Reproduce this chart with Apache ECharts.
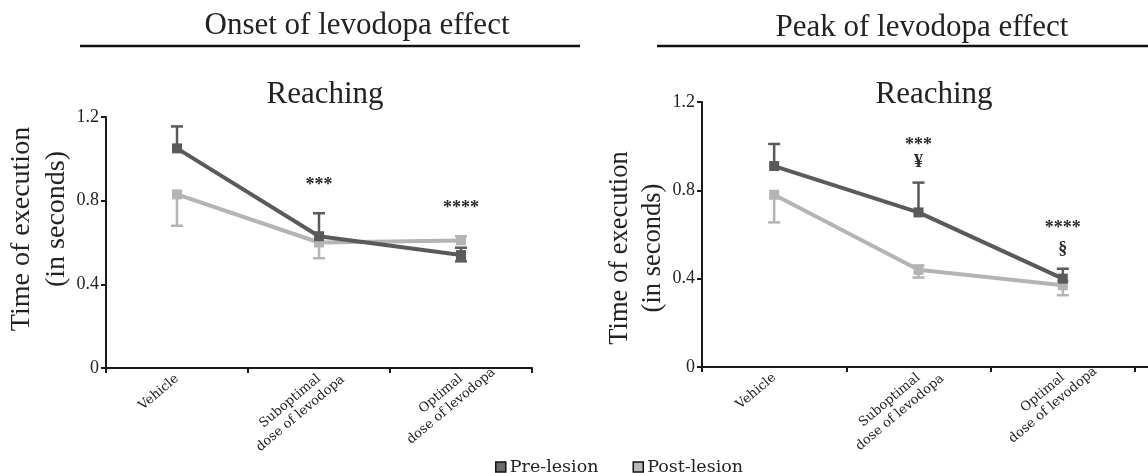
<!DOCTYPE html>
<html>
<head>
<meta charset="utf-8">
<style>
  html, body { margin: 0; padding: 0; background: #fff; }
  #chart { width: 1148px; height: 473px; }
</style>
<script src="https://cdn.jsdelivr.net/npm/echarts@6/dist/echarts.min.js"></script>
</head>
<body>
<div id="chart"></div>
<script>
// Categories on the x axis
const categories = ['Vehicle', 'Suboptimal\ndose of levodopa', 'Optimal\ndose of levodopa'];
const yTicks = [0, 0.4, 0.8, 1.2];

// Onset of levodopa effect (mean time of execution, s)
const onsetPre = [1.05, 0.63, 0.54];
const onsetPreErrUp = [0.105, 0.11, 0.035];
const onsetPreErrDown = [0, 0, 0.03];
const onsetPost = [0.83, 0.60, 0.61];
const onsetPostErrUp = [0, 0, 0.02];
const onsetPostErrDown = [0.15, 0.075, 0];

// Peak of levodopa effect (mean time of execution, s)
const peakPre = [0.91, 0.70, 0.40];
const peakPreErrUp = [0.10, 0.135, 0.045];
const peakPreErrDown = [0, 0, 0];
const peakPost = [0.78, 0.44, 0.37];
const peakPostErrUp = [0, 0.02, 0.02];
const peakPostErrDown = [0.125, 0.035, 0.045];

// Significance markers: [category index, y value, text]
const onsetMarks = [[1, 0.875, '***'], [2, 0.765, '****']];
const peakMarks = [[1, 1.005, '***'], [1, 0.925, '¥'], [2, 0.63, '****'], [2, 0.535, '§']];

const SERIF = '"Liberation Serif", "Times New Roman", serif';
const BOOK = '"DejaVu Serif", serif';
const CAT_FONT_SIZE = 13;
const CAT_LINE = 16;
const PRE_COLOR = '#5a5a5a';
const POST_COLOR = '#b4b4b4';
const INK = '#1a1a1a';

// Multi-line tick labels: lines centred on each other, first line ending at the tick
const measureCtx = document.createElement('canvas').getContext('2d');
measureCtx.font = CAT_FONT_SIZE + 'px ' + BOOK;
function categoryItem(name) {
  const lines = name.split('\n');
  const widths = lines.map(s => measureCtx.measureText(s).width);
  const maxW = Math.max.apply(null, widths);
  const shift = (maxW - widths[0]) / 2;
  const extraLines = (lines.length - 1) * CAT_LINE;
  return { value: name, textStyle: { padding: [0, -shift, -extraLines, 0] } };
}

function errData(vals, up, down) {
  return vals.map((v, i) => [i, v, up[i], down[i]]);
}

function errorSeries(name, color, gridIdx, vals, up, down) {
  return {
    type: 'custom',
    name: name,
    xAxisIndex: gridIdx,
    yAxisIndex: gridIdx,
    z: 1,
    silent: true,
    data: errData(vals, up, down),
    renderItem: function (params, api) {
      const x = api.value(0), y = api.value(1);
      const hi = y + api.value(2), lo = y - api.value(3);
      const pMid = api.coord([x, y]);
      const pHi = api.coord([x, hi]);
      const pLo = api.coord([x, lo]);
      const cap = 6;
      const style = { stroke: color, lineWidth: 2.5 };
      const children = [];
      if (api.value(2) > 0) {
        children.push({ type: 'line', shape: { x1: pMid[0], y1: pMid[1], x2: pHi[0], y2: pHi[1] }, style: style });
        children.push({ type: 'line', shape: { x1: pHi[0] - cap, y1: pHi[1], x2: pHi[0] + cap, y2: pHi[1] }, style: style });
      }
      if (api.value(3) > 0) {
        children.push({ type: 'line', shape: { x1: pMid[0], y1: pMid[1], x2: pLo[0], y2: pLo[1] }, style: style });
        children.push({ type: 'line', shape: { x1: pLo[0] - cap, y1: pLo[1], x2: pLo[0] + cap, y2: pLo[1] }, style: style });
      }
      return { type: 'group', children: children };
    }
  };
}

function lineSeries(name, color, gridIdx, vals) {
  return {
    type: 'line',
    name: name,
    xAxisIndex: gridIdx,
    yAxisIndex: gridIdx,
    data: vals,
    z: 3,
    symbol: 'rect',
    symbolSize: 10,
    showSymbol: true,
    lineStyle: { color: color, width: 4 },
    itemStyle: { color: color },
    emphasis: { disabled: true }
  };
}

function markSeries(gridIdx, marks) {
  return {
    type: 'custom',
    xAxisIndex: gridIdx,
    yAxisIndex: gridIdx,
    silent: true,
    z: 5,
    data: marks,
    renderItem: function (params, api) {
      const p = api.coord([api.value(0), api.value(1)]);
      const txt = marks[params.dataIndex][2];
      return {
        type: 'text',
        x: p[0],
        y: p[1],
        style: {
          text: txt,
          fill: '#2a2a2a',
          font: 'bold 18px ' + SERIF,
          align: 'center',
          verticalAlign: 'middle'
        }
      };
    }
  };
}

function xAxis(gridIdx) {
  return {
    type: 'category',
    gridIndex: gridIdx,
    data: categories.map(categoryItem),
    boundaryGap: true,
    axisLine: { lineStyle: { color: INK, width: 2 } },
    axisTick: { show: true, length: 5, lineStyle: { color: INK, width: 2 } },
    axisLabel: {
      interval: 0,
      rotate: 40,
      margin: 9,
      color: '#222',
      formatter: v => v.split('\n').map(s => '{c|' + s + '}').join('\n'),
      rich: {
        c: { fontFamily: BOOK, fontSize: CAT_FONT_SIZE, lineHeight: CAT_LINE, align: 'center', color: '#222' }
      }
    },
    splitLine: { show: false }
  };
}

function yAxis(gridIdx) {
  return {
    type: 'value',
    gridIndex: gridIdx,
    min: yTicks[0],
    max: yTicks[yTicks.length - 1],
    interval: yTicks[1] - yTicks[0],
    axisLine: { show: true, lineStyle: { color: INK, width: 2 } },
    axisTick: { show: true, length: 5, lineStyle: { color: INK, width: 2 } },
    axisLabel: {
      margin: 7,
      color: '#222',
      fontFamily: SERIF,
      fontSize: 18,
      formatter: v => (v === 0 ? '0' : v.toFixed(1))
    },
    splitLine: { show: false }
  };
}

function vText(text, x, y, size) {
  return {
    type: 'text', x: x, y: y, rotation: Math.PI / 2,
    style: { text: text, font: size + 'px ' + SERIF, fill: '#222', align: 'center', verticalAlign: 'middle' }
  };
}

const option = {
  backgroundColor: '#ffffff',
  animation: false,
  grid: [
    { left: 106, top: 117, width: 426, height: 251 },
    { left: 702, top: 102, width: 433, height: 265 }
  ],
  xAxis: [xAxis(0), xAxis(1)],
  yAxis: [yAxis(0), yAxis(1)],
  legend: {
    left: 490,
    top: 453,
    itemWidth: 10,
    itemHeight: 10,
    itemGap: 34,
    icon: 'rect',
    selectedMode: false,
    textStyle: { fontFamily: BOOK, fontSize: 17.5, color: '#222', padding: [0, 0, 0, -1] },
    data: [
      { name: 'Pre-lesion', itemStyle: { color: '#6a6a6a', borderColor: '#111', borderWidth: 1.5 } },
      { name: 'Post-lesion', itemStyle: { color: '#b8b8b8', borderColor: '#111', borderWidth: 1.5 } }
    ]
  },
  graphic: [
    { type: 'text', x: 357, y: 26, style: { text: 'Onset of levodopa effect', font: '31px ' + SERIF, fill: '#222', align: 'center', verticalAlign: 'middle' } },
    { type: 'line', shape: { x1: 80, y1: 46, x2: 580, y2: 46 }, style: { stroke: '#111', lineWidth: 2.5 } },
    { type: 'text', x: 922, y: 28, style: { text: 'Peak of levodopa effect', font: '31px ' + SERIF, fill: '#222', align: 'center', verticalAlign: 'middle' } },
    { type: 'line', shape: { x1: 657, y1: 46, x2: 1148, y2: 46 }, style: { stroke: '#111', lineWidth: 2.5 } },
    { type: 'text', x: 325, y: 95, style: { text: 'Reaching', font: '31px ' + SERIF, fill: '#222', align: 'center', verticalAlign: 'middle' } },
    { type: 'text', x: 934, y: 95, style: { text: 'Reaching', font: '31px ' + SERIF, fill: '#222', align: 'center', verticalAlign: 'middle' } },
    // y axis titles
    vText('Time of execution', 22, 229, 28),
    vText('(in seconds)', 57, 219, 28),
    vText('Time of execution', 620, 248, 26.5),
    vText('(in seconds)', 653, 248, 26.5),
    // x axis of the right panel runs on to the page edge
    { type: 'line', shape: { x1: 1134, y1: 367, x2: 1148, y2: 367 }, style: { stroke: INK, lineWidth: 2 } }
  ],
  series: [
    errorSeries('Pre-lesion', PRE_COLOR, 0, onsetPre, onsetPreErrUp, onsetPreErrDown),
    errorSeries('Post-lesion', POST_COLOR, 0, onsetPost, onsetPostErrUp, onsetPostErrDown),
    lineSeries('Post-lesion', POST_COLOR, 0, onsetPost),
    lineSeries('Pre-lesion', PRE_COLOR, 0, onsetPre),
    markSeries(0, onsetMarks),
    errorSeries('Pre-lesion', PRE_COLOR, 1, peakPre, peakPreErrUp, peakPreErrDown),
    errorSeries('Post-lesion', POST_COLOR, 1, peakPost, peakPostErrUp, peakPostErrDown),
    lineSeries('Post-lesion', POST_COLOR, 1, peakPost),
    lineSeries('Pre-lesion', PRE_COLOR, 1, peakPre),
    markSeries(1, peakMarks)
  ]
};

const chart = echarts.init(document.getElementById('chart'), null, { renderer: 'canvas' });
chart.setOption(option);
</script>
</body>
</html>
